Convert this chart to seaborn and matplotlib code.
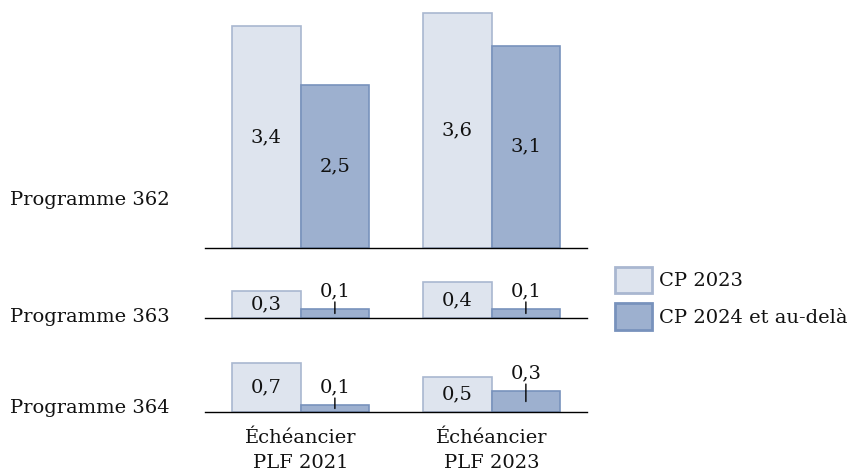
import matplotlib
matplotlib.use("Agg")
import matplotlib.pyplot as plt
from matplotlib.patches import Patch
from matplotlib.transforms import offset_copy
import pandas as pd
import seaborn as sns

# Data (Md€)
echeanciers = ["Échéancier\nPLF 2021", "Échéancier\nPLF 2023"]
series = ["CP 2023", "CP 2024 et au-delà"]
programmes = ["Programme 362", "Programme 363", "Programme 364"]
cp_2023 = {"Programme 362": [3.4, 3.6],
           "Programme 363": [0.3, 0.4],
           "Programme 364": [0.7, 0.5]}
cp_2024_plus = {"Programme 362": [2.5, 3.1],
                "Programme 363": [0.1, 0.1],
                "Programme 364": [0.1, 0.3]}

sns.set_theme(style="white")
plt.rcParams["font.family"] = ["DejaVu Serif", "Liberation Serif"]
plt.rcParams["text.color"] = "#111111"
plt.rcParams["xtick.color"] = "#111111"
plt.rcParams["xtick.labelcolor"] = "#111111"
FS = 14

fills = {"CP 2023": "#DEE4EE", "CP 2024 et au-delà": "#9DB0CF"}
edges = {"CP 2023": "#A9B7D0", "CP 2024 et au-delà": "#7892BC"}

W, H = 861, 475
fig = plt.figure(figsize=(W / 100, H / 100), dpi=100)


def px_axes(left, top, right, bottom):
    return fig.add_axes([left / W, 1 - bottom / H, (right - left) / W, (bottom - top) / H])


# panel layout in pixels: (top, baseline, ymax, label y)
panels = {
    "Programme 362": (5, 248, 3.72, 200),
    "Programme 363": (270, 318, 0.53, 317),
    "Programme 364": (345, 412, 0.96, 408),
}

for i, prog in enumerate(programmes):
    top, base, ymax, label_y = panels[prog]
    ax = px_axes(205, top, 587, base)
    df = pd.DataFrame({
        "echeancier": echeanciers * 2,
        "serie": [series[0]] * 2 + [series[1]] * 2,
        "valeur": cp_2023[prog] + cp_2024_plus[prog],
    })
    sns.barplot(data=df, x="echeancier", y="valeur", hue="serie",
                hue_order=series, order=echeanciers, palette=fills,
                width=0.72, gap=0, legend=False, ax=ax, saturation=1)
    for serie, cont in zip(series, ax.containers):
        for bar in cont:
            bar.set_edgecolor(edges[serie])
            bar.set_linewidth(1.2)
        for bar in cont:
            h = bar.get_height()
            x = bar.get_x() + bar.get_width() / 2
            txt = f"{h:.1f}".replace(".", ",")
            if serie == series[1] and h <= 0.3:
                # small bar: value above with a short leader line
                ax.annotate("", xy=(x, h / 2), xycoords="data",
                            xytext=(x, h),
                            textcoords=offset_copy(ax.transData, fig=fig, y=7, units="dots"),
                            arrowprops=dict(arrowstyle="-", lw=1, color="black",
                                            shrinkA=0, shrinkB=0))
                ax.annotate(txt, xy=(x, h), xytext=(0, 18), textcoords="offset pixels",
                            ha="center", va="center", fontsize=FS)
            else:
                ax.text(x, h / 2, txt, ha="center", va="center", fontsize=FS)
    ax.set_xlim(-0.5, 1.5)
    ax.set_ylim(0, ymax)
    ax.set_xlabel("")
    ax.set_ylabel("")
    ax.set_yticks([])
    for s in ["top", "left", "right"]:
        ax.spines[s].set_visible(False)
    ax.spines["bottom"].set_color("black")
    ax.spines["bottom"].set_linewidth(1.0)
    ax.tick_params(axis="x", length=0, pad=12)
    if i < 2:
        ax.set_xticks([])
    else:
        ax.set_xticks(range(len(echeanciers)))
        ax.set_xticklabels(echeanciers, fontsize=FS, linespacing=1.5)
    fig.text(10 / W, 1 - label_y / H, prog, ha="left", va="center", fontsize=FS)

handles = [Patch(facecolor=fills[s], edgecolor=edges[s], linewidth=2) for s in series]
fig.legend(handles, series, loc="upper left", bbox_to_anchor=(601 / W, 1 - 253 / H),
           frameon=False, fontsize=FS, handlelength=1.9, handleheight=1.75,
           labelspacing=0.5, handletextpad=0.4, borderpad=0.2)

fig.savefig("out.png", dpi=100)
